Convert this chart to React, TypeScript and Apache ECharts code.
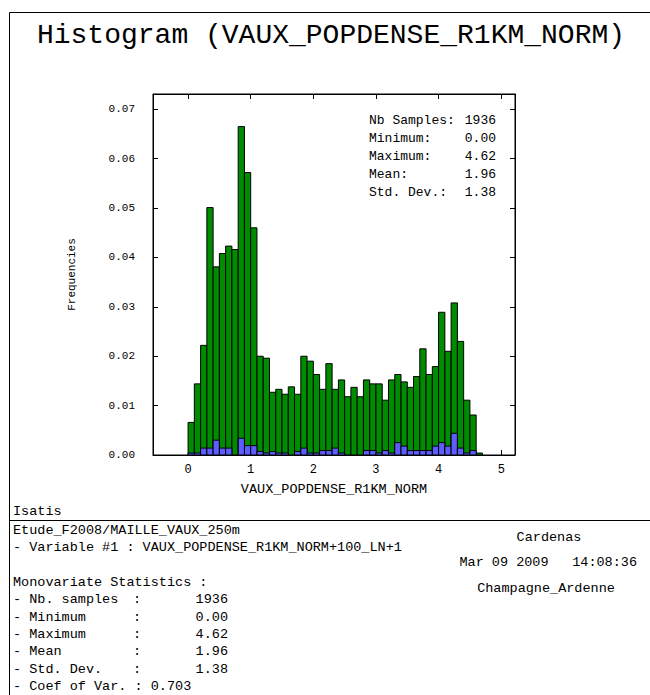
import React, { useEffect, useRef } from "react";
import * as echarts from "echarts";

// ---- data ----
const binLeft = [
  0.0, 0.1, 0.2, 0.3, 0.4, 0.5, 0.6, 0.7, 0.8, 0.9,
  1.0, 1.1, 1.2, 1.3, 1.4, 1.5, 1.6, 1.7, 1.8, 1.9,
  2.0, 2.1, 2.2, 2.3, 2.4, 2.5, 2.6, 2.7, 2.8, 2.9,
  3.0, 3.1, 3.2, 3.3, 3.4, 3.5, 3.6, 3.7, 3.8, 3.9,
  4.0, 4.1, 4.2, 4.3, 4.4, 4.5, 4.6,
];
const binWidth = 0.1;
const allFreq = [
  0.0066, 0.0144, 0.0222, 0.0501, 0.0381, 0.0408, 0.0423, 0.0416, 0.0665, 0.0572,
  0.0460, 0.0200, 0.0196, 0.0127, 0.0133, 0.0123, 0.0138, 0.0123, 0.0200, 0.0190,
  0.0163, 0.0133, 0.0185, 0.0133, 0.0152, 0.0118, 0.0137, 0.0118, 0.0152, 0.0144,
  0.0144, 0.0111, 0.0152, 0.0163, 0.0148, 0.0137, 0.0159, 0.0215, 0.0163, 0.0179,
  0.0289, 0.0210, 0.0308, 0.0230, 0.0111, 0.0081, 0.0004,
];
const selFreq = [
  0.0004, 0.0004, 0.0014, 0.0014, 0.0030, 0.0014, 0.0014, 0.0, 0.0034, 0.0019,
  0.0019, 0.0007, 0.0004, 0.0007, 0.0004, 0.0004, 0.0, 0.0007, 0.0014, 0.0004,
  0.0004, 0.0009, 0.0009, 0.0014, 0.0004, 0.0, 0.0, 0.0, 0.0009, 0.0009,
  0.0004, 0.0009, 0.0004, 0.0025, 0.0018, 0.0009, 0.0009, 0.0009, 0.0009, 0.0018,
  0.0025, 0.0018, 0.0044, 0.0014, 0.0004, 0.0009, 0.0,
];
const xTicks = [0, 1, 2, 3, 4, 5];
const yTicks = [0, 0.01, 0.02, 0.03, 0.04, 0.05, 0.06, 0.07];
const boxLabels = ["Nb Samples:", "Minimum:", "Maximum:", "Mean:", "Std. Dev.:"];
const boxValues = ["1936", "0.00", "4.62", "1.96", "1.38"];
const statLabels = ["- Nb. samples", "- Minimum", "- Maximum", "- Mean", "- Std. Dev."];
const statValues = ["1936", "0.00", "4.62", "1.96", "1.38"];

const MONO = "'Liberation Mono', 'Courier New', monospace";

export default function App() {
  const ref = useRef<HTMLDivElement>(null);
  useEffect(() => {
    if (!ref.current) return;
    const chart = echarts.init(ref.current, null, { renderer: "svg" });

    const makeSeries = (vals: number[], color: string, name: string) => ({
      type: "custom",
      name,
      xAxisIndex: 0,
      yAxisIndex: 0,
      data: binLeft.map((l, i) => [l, l + binWidth, vals[i]]),
      encode: { x: [0, 1], y: 2 },
      renderItem: (_p: any, api: any) => {
        const h = api.value(2);
        if (!h) return null;
        const p0 = api.coord([api.value(0), h]);
        const p1 = api.coord([api.value(1), 0]);
        return {
          type: "rect",
          shape: { x: p0[0], y: p0[1], width: p1[0] - p0[0], height: p1[1] - p0[1] },
          style: { fill: color, stroke: "#000", lineWidth: 1 },
        };
      },
    });

    const txt = (text: string, x: number, y: number, size: number, align = "left") => ({
      type: "text",
      x,
      y,
      style: { text, font: `${size}px ${MONO}`, fill: "#000", textAlign: align, textVerticalAlign: "middle" },
      z: 10,
    });
    const ln = (x1: number, y1: number, x2: number, y2: number) => ({
      type: "line",
      shape: { x1, y1, x2, y2 },
      style: { stroke: "#000", lineWidth: 1 },
      z: 10,
    });

    const graphics: any[] = [
      ln(9.5, 12.5, 650, 12.5),
      ln(9.5, 12.5, 9.5, 695),
      ln(9.5, 520.5, 650, 520.5),
      txt("Histogram (VAUX_POPDENSE_R1KM_NORM)", 331, 35, 28, "center"),
      txt("Isatis", 13, 511, 13.5),
      txt("Etude_F2008/MAILLE_VAUX_250m", 13, 530, 13.5),
      txt("- Variable #1 : VAUX_POPDENSE_R1KM_NORM+100_LN+1", 13, 547.5, 13.5),
      txt("Monovariate Statistics :", 13, 582.5, 13.5),
      txt("- Coef of Var. : 0.703", 13, 686.5, 13.5),
      txt("Cardenas", 549, 537, 13.5, "center"),
      txt("Mar 09 2009", 504, 562, 13.5, "center"),
      txt("14:08:36", 637, 562, 13.5, "right"),
      txt("Champagne_Ardenne", 546, 588, 13.5, "center"),
    ];
    boxLabels.forEach((l, i) => {
      graphics.push(txt(l, 369, 120 + i * 18, 13));
      graphics.push(txt(boxValues[i], 496, 120 + i * 18, 13, "right"));
    });
    statLabels.forEach((l, i) => {
      const y = 599.8 + i * 17.35;
      graphics.push(txt(l, 13, y, 13.5));
      graphics.push(txt(":", 133, y, 13.5));
      graphics.push(txt(statValues[i], 228, y, 13.5, "right"));
    });

    const xMin = -0.56;
    const xMax = 5.22;
    const yMin = 0;
    const yMax = 0.0731;

    chart.setOption({
      animation: false,
      backgroundColor: "#fff",
      grid: {
        left: 153,
        right: 135,
        top: 94,
        bottom: 240,
        show: true,
        borderColor: "#000",
        borderWidth: 1,
        backgroundColor: "transparent",
      },
      xAxis: [
        {
          type: "value",
          min: xMin,
          max: xMax,
          position: "bottom",
          name: "VAUX_POPDENSE_R1KM_NORM",
          nameLocation: "middle",
          nameGap: 27,
          nameTextStyle: { fontFamily: MONO, fontSize: 13.5, color: "#000" },
          axisLine: { show: true, onZero: false, lineStyle: { color: "#000" } },
          axisTick: { show: true, inside: true, length: 5, customValues: xTicks, lineStyle: { color: "#000" } },
          axisLabel: {
            show: true,
            customValues: xTicks,
            margin: 9,
            fontFamily: MONO,
            fontSize: 12,
            color: "#000",
            formatter: (v: number) => String(v),
          },
          splitLine: { show: false },
        },
        {
          type: "value",
          min: xMin,
          max: xMax,
          position: "top",
          axisLine: { show: true, onZero: false, lineStyle: { color: "#000" } },
          axisTick: { show: true, inside: true, length: 5, customValues: xTicks, lineStyle: { color: "#000" } },
          axisLabel: { show: false },
          splitLine: { show: false },
        },
      ],
      yAxis: [
        {
          type: "value",
          min: yMin,
          max: yMax,
          position: "left",
          name: "Frequencies",
          nameLocation: "middle",
          nameGap: 76,
          nameRotate: 90,
          nameTextStyle: { fontFamily: MONO, fontSize: 11, color: "#000" },
          axisLine: { show: true, onZero: false, lineStyle: { color: "#000" } },
          axisTick: { show: true, inside: true, length: 5, customValues: yTicks, lineStyle: { color: "#000" } },
          axisLabel: {
            show: true,
            customValues: yTicks,
            margin: 18,
            fontFamily: MONO,
            fontSize: 11,
            color: "#000",
            formatter: (v: number) => v.toFixed(2),
          },
          splitLine: { show: false },
        },
        {
          type: "value",
          min: yMin,
          max: yMax,
          position: "right",
          axisLine: { show: true, onZero: false, lineStyle: { color: "#000" } },
          axisTick: { show: true, inside: true, length: 5, customValues: yTicks, lineStyle: { color: "#000" } },
          axisLabel: { show: false },
          splitLine: { show: false },
        },
      ],
      series: [makeSeries(allFreq, "#008c00", "All"), makeSeries(selFreq, "#5c5cff", "Selection")],
      graphic: graphics,
    });

    return () => chart.dispose();
  }, []);
  return (
    <div
      ref={ref}
      style={{ position: "fixed", left: 0, top: 0, width: 650, height: 695, background: "#fff" }}
    />
  );
}
